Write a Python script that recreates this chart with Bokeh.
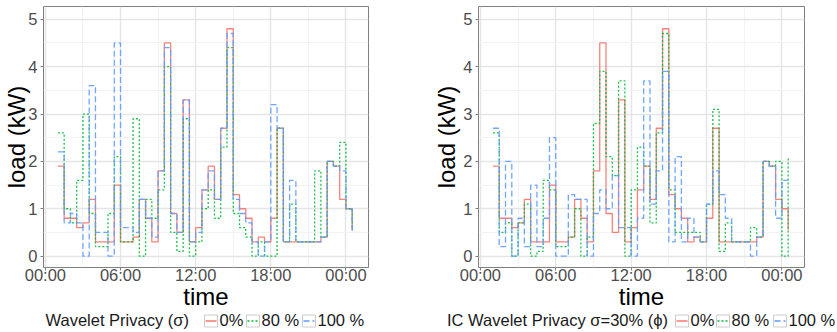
from bokeh.plotting import figure
from bokeh.layouts import row, column
from bokeh.models import Range1d, FixedTicker, ColumnDataSource
from bokeh.embed import file_html
from bokeh.resources import INLINE
from bokeh.core.properties import value

# ---------------- data ----------------
hours = [1 + 0.5 * i for i in range(48)]  # 01:00 ... 00:30 (next day), half-hourly

load_0 = [1.9, 0.8, 0.8, 0.6, 0.7, 1.2, 0.3, 0.3, 0.3, 1.5, 0.3, 0.3, 0.4, 1.2, 0.8, 0.3,
          1.8, 4.5, 0.9, 0.5, 3.3, 0.3, 0.6, 1.4, 1.9, 1.2, 2.7, 4.8, 1.3, 1.0, 0.8, 0.3,
          0.4, 0.3, 0.8, 2.7, 0.3, 0.3, 0.3, 0.3, 0.3, 0.3, 0.4, 2.0, 1.9, 1.2, 1.0, 0.55]

wav_80 = [2.6, 1.0, 0.7, 1.6, 3.0, 0.9, 0.2, 0.2, 0.9, 2.1, 0.3, 0.3, 2.9, 0.0, 1.2, 0.8,
          1.4, 4.0, 0.5, 0.1, 2.9, 0.0, 0.3, 1.0, 1.4, 0.8, 2.3, 4.4, 0.9, 0.6, 0.4, 0.0,
          0.3, 0.0, 0.0, 2.7, 0.3, 1.1, 0.3, 0.3, 0.3, 1.8, 0.4, 2.0, 1.9, 2.4, 1.0, 0.55]

wav_100 = [2.2, 0.7, 0.9, 0.7, 0.0, 3.6, 0.5, 0.5, 0.0, 4.5, 0.6, 0.6, 0.5, 1.2, 0.8, 0.4,
           1.8, 4.4, 0.9, 0.5, 3.3, 0.3, 0.5, 1.4, 1.8, 1.2, 2.7, 4.7, 1.2, 0.9, 0.7, 0.3,
           0.0, 0.3, 3.2, 2.7, 0.3, 1.6, 0.3, 0.3, 0.3, 0.3, 0.4, 2.0, 1.9, 1.8, 1.0, 0.5]

ic_80 = [2.6, 0.5, 0.7, 0.0, 0.7, 1.1, 0.0, 0.1, 1.6, 1.4, 0.2, 0.2, 0.4, 1.0, 0.0, 0.4,
         2.8, 3.9, 2.1, 1.7, 3.7, 0.0, 1.4, 2.3, 1.9, 0.7, 2.6, 4.7, 1.4, 0.5, 0.5, 0.5,
         0.5, 0.3, 1.1, 3.1, 0.1, 0.7, 0.3, 0.3, 0.3, 0.6, 0.4, 2.0, 1.9, 2.0, 0.0, 2.1]

ic_100 = [2.7, 0.2, 2.0, 0.0, 0.8, 0.2, 1.5, 0.2, 0.8, 2.5, 0.0, 0.0, 1.3, 1.2, 1.2, 0.0,
          0.9, 1.4, 1.0, 1.7, 0.6, 0.6, 0.0, 0.8, 3.7, 1.1, 1.8, 3.9, 0.3, 2.1, 0.3, 0.8,
          0.4, 0.3, 1.1, 1.8, 1.3, 0.8, 0.3, 0.3, 0.3, 0.0, 0.4, 2.0, 1.9, 0.8, 1.6, 1.6]

x_ticks = [0, 6, 12, 18, 24]
x_tick_labels = ["00:00", "06:00", "12:00", "18:00", "00:00"]
x_minor = [3, 9, 15, 21]
y_ticks = [0, 1, 2, 3, 4, 5]
y_minor = [0.5, 1.5, 2.5, 3.5, 4.5]

series_labels = ["0%", "80 %", "100 %"]
series_colors = ["#F8766D", "#00BA38", "#619CFF"]
series_dash = ["solid", "2 2", "6 3"]

FONT = "Liberation Sans"
MAIN_H = 312
LEG_H = 332 - MAIN_H


def make_panel(width, border_left, border_right, series, label_standoff):
    p = figure(width=width, height=MAIN_H,
               x_range=Range1d(-0.15, 25.8), y_range=Range1d(-0.24, 5.27),
               output_backend="svg", toolbar_location=None,
               min_border_left=border_left, min_border_right=border_right,
               min_border_top=6, min_border_bottom=MAIN_H - 267)
    p.background_fill_color = "white"
    p.border_fill_color = "white"
    p.outline_line_color = "#7F7F7F"
    p.outline_line_width = 1

    p.xaxis.ticker = FixedTicker(ticks=x_ticks, minor_ticks=x_minor)
    p.xaxis.major_label_overrides = {t: l for t, l in zip(x_ticks, x_tick_labels)}
    p.yaxis.ticker = FixedTicker(ticks=y_ticks, minor_ticks=y_minor)

    for ax in (p.xaxis[0], p.yaxis[0]):
        ax.axis_line_color = None
        ax.major_tick_line_color = "#7F7F7F"
        ax.major_tick_out = 3
        ax.major_tick_in = 0
        ax.minor_tick_line_color = None
        ax.major_label_text_font = FONT
        ax.major_label_text_font_size = "16.5px"
        ax.major_label_text_color = "#4D4D4D"
        ax.axis_label_text_font = FONT
        ax.axis_label_text_font_size = "24px"
        ax.axis_label_text_font_style = "normal"
        ax.axis_label_text_color = "black"

    p.xaxis.axis_label = "time"
    p.xaxis.major_label_standoff = -6
    p.xaxis.axis_label_standoff = -4
    p.yaxis.axis_label = "load (kW)"
    p.yaxis.major_label_standoff = 2
    p.yaxis.axis_label_standoff = label_standoff

    for g in (p.xgrid[0], p.ygrid[0]):
        g.grid_line_color = "#E5E5E5"
        g.grid_line_width = 1.4
        g.minor_grid_line_color = "#F3F3F3"
        g.minor_grid_line_width = 1.2
    p.xgrid.ticker = FixedTicker(ticks=x_ticks, minor_ticks=x_minor)
    p.ygrid.ticker = FixedTicker(ticks=y_ticks, minor_ticks=y_minor)

    src = ColumnDataSource(dict(h=hours, s0=series[0], s1=series[1], s2=series[2]))
    for key, col, dash in zip(["s0", "s1", "s2"], series_colors, series_dash):
        p.step(x="h", y=key, source=src, mode="after", line_color=col,
               line_width=1.3, line_dash=dash, line_alpha=0.9)
    return p


def make_legend(width, title, title_x, boxes_x):
    lf = figure(width=width, height=LEG_H, x_range=Range1d(0, width), y_range=Range1d(0, LEG_H),
                output_backend="svg", toolbar_location=None, min_border=0,
                x_axis_type=None, y_axis_type=None)
    lf.grid.visible = False
    lf.outline_line_color = None
    lf.background_fill_color = "white"
    lf.border_fill_color = "white"
    yc = LEG_H - 7.5
    lf.text(x=[title_x], y=[yc], text=[title], text_font=value(FONT), text_font_size="16.5px",
            text_baseline="middle", text_align="left", text_color="#1A1A1A")
    for bx, lab, col, dash in zip(boxes_x, series_labels, series_colors, series_dash):
        lf.rect(x=[bx + 6.5], y=[yc - 1], width=13, height=12, fill_color="white",
                line_color="#CCCCCC", line_width=1)
        lf.segment(x0=[bx + 1], y0=[yc - 1], x1=[bx + 12], y1=[yc - 1], line_color=col,
                   line_width=1.3, line_dash=dash)
        lf.text(x=[bx + 15], y=[yc], text=[lab], text_font=value(FONT), text_font_size="16.5px",
                text_baseline="middle", text_align="left", text_color="#1A1A1A")
    return lf


p1 = make_panel(418, 42, 50, [load_0, wav_80, wav_100], -5)
p2 = make_panel(419, 60, 33, [load_0, ic_80, ic_100], 0)
l1 = make_legend(418, "Wavelet Privacy (\u03c3)", 45, [204, 246, 302])
l2 = make_legend(419, "IC Wavelet Privacy \u03c3=30% (\u03d5)", 28.5, [257, 298, 355])

layout = column(row(p1, p2, spacing=0), row(l1, l2, spacing=0), spacing=0)

open("out.html", "w").write(file_html(layout, INLINE))
